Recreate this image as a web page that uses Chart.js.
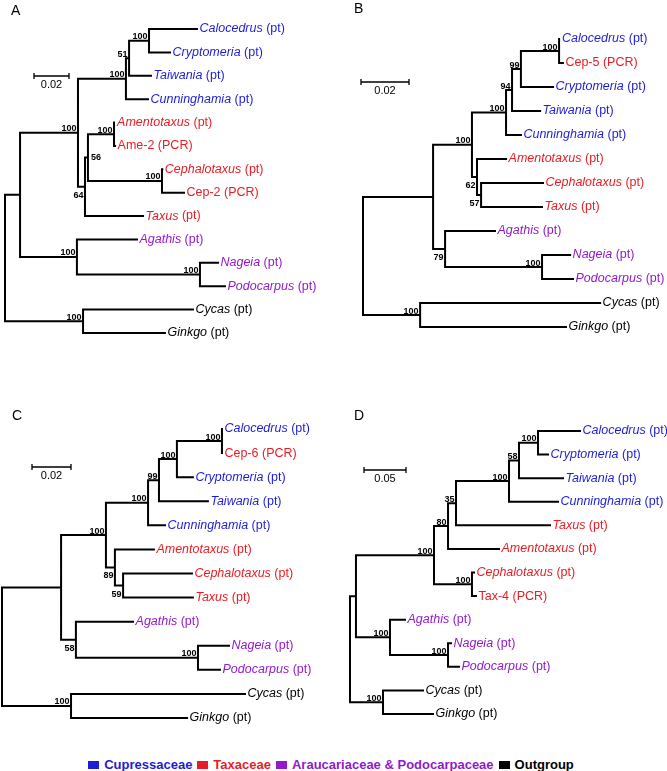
<!DOCTYPE html>
<html>
<head>
<meta charset="utf-8">
<script src="https://cdn.jsdelivr.net/npm/chart.js@4.4.0/dist/chart.umd.min.js"></script>
<style>
  body { margin: 0; background: #fff; }
  #fig { position: relative; width: 667px; height: 771px; overflow: hidden; }
  #fig canvas { position: absolute; }
  #legend { position: absolute; left: -5px; top: 757px; width: 667px; text-align: center;
            font: bold 13px "Liberation Sans", Arial, sans-serif; line-height: 16px; white-space: nowrap; }
  #legend .sq { display: inline-block; width: 11px; height: 8px; margin: 0 5px; }
</style>
</head>
<body>
<div id="fig">
  <canvas id="treeA" width="333" height="380" style="left:0;top:0"></canvas>
  <canvas id="treeB" width="334" height="380" style="left:333px;top:0"></canvas>
  <canvas id="treeC" width="333" height="345" style="left:0;top:380px"></canvas>
  <canvas id="treeD" width="334" height="345" style="left:333px;top:380px"></canvas>
  <div id="legend"></div>
</div>
<script>
// depths = distance from the root (subst./site)
// kids: numbers are tips, 'nX' are internal nodes (listed children-first)

// ---- A
const tipsA = ['Calocedrus','Cryptomeria','Taiwania','Cunninghamia','Amentotaxus','Ame-2','Cephalotaxus','Cep-2','Taxus','Agathis','Nageia','Podocarpus','Cycas','Ginkgo'];
const srcA = ['pt','pt','pt','pt','pt','PCR','pt','PCR','pt','pt','pt','pt','pt','pt'];
const groupA = ['Cup','Cup','Cup','Cup','Tax','Tax','Tax','Tax','Tax','Ara','Ara','Ara','Out','Out'];
const tipDepthA = [0.1097, 0.0943, 0.0834, 0.0817, 0.0626, 0.0629, 0.0899, 0.1023, 0.0789, 0.0754, 0.1217, 0.1257, 0.1074, 0.0914];
const kidsA = [[0,1],['n0',2],['n1',3],[4,5],[6,7],['n3','n4'],['n5',8],['n2','n6'],[10,11],[9,'n8'],['n7','n9'],[12,13],['n10','n11']];
const nodeDepthA = [0.0823, 0.0709, 0.0691, 0.0623, 0.0897, 0.0474, 0.0457, 0.0417, 0.1114, 0.0411, 0.0086, 0.0446, 0];
const supportA = [100, 51, 100, 100, 100, 56, 64, 100, 100, 100, null, 100, null];
const sideA = ['a','a','a','a','a','r','b','a','a','a','','a',''];

// ---- B
const tipsB = ['Calocedrus','Cep-5','Cryptomeria','Taiwania','Cunninghamia','Amentotaxus','Cephalotaxus','Taxus','Agathis','Nageia','Podocarpus','Cycas','Ginkgo'];
const srcB = ['pt','PCR','pt','pt','pt','pt','pt','pt','pt','pt','pt','pt','pt'];
const groupB = ['Cup','Tax','Cup','Cup','Cup','Tax','Tax','Tax','Ara','Ara','Ara','Out','Out'];
const tipDepthB = [0.0819, 0.0833, 0.0792, 0.0738, 0.0658, 0.0596, 0.0750, 0.0746, 0.0550, 0.0863, 0.0875, 0.0988, 0.0846];
const kidsB = [[0,1],['n0',2],['n1',3],['n2',4],[6,7],[5,'n4'],['n3','n5'],[9,10],[8,'n7'],['n6','n8'],[11,12],['n9','n10']];
const nodeDepthB = [0.0817, 0.0658, 0.0621, 0.0596, 0.0492, 0.0475, 0.0454, 0.0746, 0.0342, 0.0292, 0.0238, 0];
const supportB = [100, 99, 94, 100, 57, 62, 100, 100, 79, null, 100, null];
const sideB = ['a','a','a','a','b','b','a','a','b','','a',''];

// ---- C
const tipsC = ['Calocedrus','Cep-6','Cryptomeria','Taiwania','Cunninghamia','Amentotaxus','Cephalotaxus','Taxus','Agathis','Nageia','Podocarpus','Cycas','Ginkgo'];
const srcC = ['pt','PCR','pt','pt','pt','pt','pt','pt','pt','pt','pt','pt','pt'];
const groupC = ['Cup','Tax','Cup','Cup','Cup','Tax','Tax','Tax','Ara','Ara','Ara','Out','Out'];
const tipDepthC = [0.1128, 0.1128, 0.0979, 0.1056, 0.0836, 0.0779, 0.0974, 0.0979, 0.0672, 0.1164, 0.1118, 0.1246, 0.0949];
const kidsC = [[0,1],['n0',2],['n1',3],['n2',4],[6,7],[5,'n4'],['n3','n5'],[9,10],[8,'n7'],['n6','n8'],[11,12],['n9','n10']];
const nodeDepthC = [0.1128, 0.0897, 0.0805, 0.0749, 0.0621, 0.0579, 0.0533, 0.1005, 0.0379, 0.0303, 0.0354, 0];
const supportC = [100, 100, 99, 100, 59, 89, 100, 100, 58, null, 100, null];
const sideC = ['a','a','a','a','b','b','a','a','b','','a',''];

// ---- D
const tipsD = ['Calocedrus','Cryptomeria','Taiwania','Cunninghamia','Taxus','Amentotaxus','Cephalotaxus','Tax-4','Agathis','Nageia','Podocarpus','Cycas','Ginkgo'];
const srcD = ['pt','pt','pt','pt','pt','pt','pt','PCR','pt','pt','pt','pt','pt'];
const groupD = ['Cup','Cup','Cup','Cup','Tax','Tax','Tax','Tax','Ara','Ara','Ara','Out','Out'];
const tipDepthD = [0.2738, 0.2357, 0.2536, 0.2476, 0.2381, 0.1774, 0.1476, 0.1500, 0.0655, 0.1202, 0.1298, 0.0869, 0.0988];
const kidsD = [[0,1],['n0',2],['n1',3],['n2',4],['n3',5],[6,7],['n4','n5'],[9,10],[8,'n7'],['n6','n8'],[11,12],['n9','n10']];
const nodeDepthD = [0.2238, 0.2012, 0.1893, 0.1262, 0.1167, 0.1452, 0.1000, 0.1167, 0.0476, 0.0071, 0.0393, 0];
const supportD = [100, 58, 100, 35, 80, 100, 100, 100, 100, null, 100, null];
const sideD = ['a','a','a','a','a','a','a','a','a','','a',''];

const scaleLens = [0.02, 0.02, 0.02, 0.05];
const panelLetters = ['A', 'B', 'C', 'D'];

const groupNames = ['Cupressaceae', 'Taxaceae', 'Araucariaceae & Podocarpaceae', 'Outgroup'];
const groupKeys = ['Cup', 'Tax', 'Ara', 'Out'];
const groupColors = { Cup: '#1d1dd6', Tax: '#e81c24', Ara: '#9419cc', Out: '#000000' };

const FONT = '"Liberation Sans", Arial, sans-serif';

// pixel layout of each panel (root offset, px per unit, first tip row, row gap)
const layouts = [
  { id: 'treeA', rootX: 5,  ppu: 1750, y0: 29, gap: 23.38, letter: [11, 15], bar: [34, 76] },
  { id: 'treeB', rootX: 30, ppu: 2400, y0: 39, gap: 24.0,  letter: [21, 13], bar: [28, 82] },
  { id: 'treeC', rootX: 2,  ppu: 1950, y0: 49, gap: 24.08, letter: [12, 40], bar: [32, 87] },
  { id: 'treeD', rootX: 17, ppu: 840,  y0: 51, gap: 23.58, letter: [21, 40], bar: [31, 90] }
];

function layoutTree(tipDepth, kids, nodeDepth) {
  const pos = {};
  tipDepth.forEach((d, i) => { pos[i] = { x: d, y: i }; });
  kids.forEach((k, i) => {
    const a = pos[k[0]], b = pos[k[k.length - 1]];
    pos['n' + i] = { x: nodeDepth[i], y: (a.y + b.y) / 2 };
  });
  return pos;
}

function branchPoints(pos, kids) {
  const pts = [];
  kids.forEach((k, i) => {
    const n = pos['n' + i];
    const ys = k.map(c => pos[c].y);
    pts.push({ x: n.x, y: Math.min(...ys) }, { x: n.x, y: Math.max(...ys) }, { x: null, y: null });
    k.forEach(c => {
      pts.push({ x: n.x, y: pos[c].y }, { x: pos[c].x, y: pos[c].y }, { x: null, y: null });
    });
  });
  return pts;
}

function makeTree(p, L) {
  const canvas = document.getElementById(L.id);
  const W = canvas.width, H = canvas.height;
  const pos = layoutTree(p.tipDepth, p.kids, p.nodeDepth);

  const textPlugin = {
    id: 'treeText',
    afterDatasetsDraw(chart) {
      const ctx = chart.ctx, x = chart.scales.x, y = chart.scales.y;
      ctx.save();
      // tip labels
      ctx.textAlign = 'left';
      ctx.textBaseline = 'middle';
      p.tips.forEach((name, i) => {
        let px = x.getPixelForValue(p.tipDepth[i]) + 2.5;
        const py = y.getPixelForValue(i);
        ctx.fillStyle = groupColors[p.group[i]];
        if (p.src[i] === 'pt') {
          ctx.font = 'italic 12.5px ' + FONT;
          ctx.fillText(name, px, py);
          px += ctx.measureText(name).width;
          ctx.font = '12.5px ' + FONT;
          ctx.fillText(' (pt)', px, py);
        } else {
          ctx.font = '12.5px ' + FONT;
          ctx.fillText(name + ' (' + p.src[i] + ')', px, py);
        }
      });
      // bootstrap values
      ctx.fillStyle = '#000';
      ctx.font = 'bold 9px ' + FONT;
      p.support.forEach((s, i) => {
        if (s == null) return;
        const n = pos['n' + i];
        const px = x.getPixelForValue(n.x), py = y.getPixelForValue(n.y);
        if (p.side[i] === 'r') {
          ctx.textAlign = 'left'; ctx.textBaseline = 'middle';
          ctx.fillText(String(s), px + 3, py);
        } else if (p.side[i] === 'b') {
          ctx.textAlign = 'right'; ctx.textBaseline = 'alphabetic';
          ctx.fillText(String(s), px - 1.5, py + 11);
        } else {
          ctx.textAlign = 'right'; ctx.textBaseline = 'alphabetic';
          ctx.fillText(String(s), px - 1.5, py - 1.5);
        }
      });
      // scale bar
      const len = x.getPixelForValue(p.scaleLen) - x.getPixelForValue(0);
      const bx = L.bar[0], by = L.bar[1];
      ctx.strokeStyle = '#000';
      ctx.lineWidth = 1.3;
      ctx.beginPath();
      ctx.moveTo(bx, by); ctx.lineTo(bx + len, by);
      ctx.moveTo(bx, by - 3); ctx.lineTo(bx, by + 3);
      ctx.moveTo(bx + len, by - 3); ctx.lineTo(bx + len, by + 3);
      ctx.stroke();
      ctx.font = '11px ' + FONT;
      ctx.textAlign = 'center'; ctx.textBaseline = 'middle';
      ctx.fillText(String(p.scaleLen), bx + len / 2, by + 8.5);
      // panel letter
      ctx.font = '14px ' + FONT;
      ctx.textAlign = 'left'; ctx.textBaseline = 'alphabetic';
      ctx.fillText(p.letter, L.letter[0], L.letter[1]);
      ctx.restore();
    }
  };

  new Chart(canvas, {
    type: 'scatter',
    data: {
      datasets: [{
        data: branchPoints(pos, p.kids),
        showLine: true,
        spanGaps: false,
        borderColor: '#000',
        borderWidth: 2,
        borderCapStyle: 'square',
        pointRadius: 0,
        pointHoverRadius: 0
      }]
    },
    options: {
      responsive: false,
      animation: false,
      devicePixelRatio: 1,
      events: [],
      layout: { padding: 0 },
      scales: {
        x: { type: 'linear', display: false, min: -L.rootX / L.ppu, max: (W - L.rootX) / L.ppu },
        y: { type: 'linear', display: false, reverse: true, min: -L.y0 / L.gap, max: (H - L.y0) / L.gap }
      },
      plugins: { legend: { display: false }, tooltip: { enabled: false } }
    },
    plugins: [textPlugin]
  });
}

const panels = [
  { tips: tipsA, src: srcA, group: groupA, tipDepth: tipDepthA, kids: kidsA, nodeDepth: nodeDepthA, support: supportA, side: sideA },
  { tips: tipsB, src: srcB, group: groupB, tipDepth: tipDepthB, kids: kidsB, nodeDepth: nodeDepthB, support: supportB, side: sideB },
  { tips: tipsC, src: srcC, group: groupC, tipDepth: tipDepthC, kids: kidsC, nodeDepth: nodeDepthC, support: supportC, side: sideC },
  { tips: tipsD, src: srcD, group: groupD, tipDepth: tipDepthD, kids: kidsD, nodeDepth: nodeDepthD, support: supportD, side: sideD }
];
panels.forEach((p, i) => {
  p.scaleLen = scaleLens[i];
  p.letter = panelLetters[i];
  makeTree(p, layouts[i]);
});

// legend
const legend = document.getElementById('legend');
groupKeys.forEach((k, i) => {
  const sq = document.createElement('span');
  sq.className = 'sq';
  sq.style.background = groupColors[k];
  const t = document.createElement('span');
  t.style.color = groupColors[k];
  t.textContent = groupNames[i];
  legend.appendChild(sq);
  legend.appendChild(t);
});
</script>
</body>
</html>
